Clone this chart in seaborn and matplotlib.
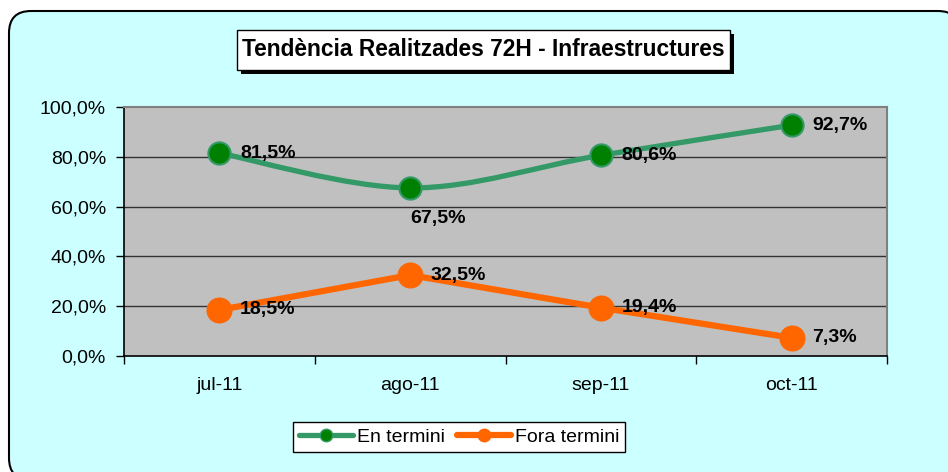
import numpy as np
import pandas as pd
import seaborn as sns
from matplotlib import pyplot as plt
from matplotlib.patches import FancyBboxPatch, Rectangle
from matplotlib.path import Path
from matplotlib.patches import PathPatch
from matplotlib.lines import Line2D
from matplotlib.ticker import FixedLocator, FuncFormatter
from matplotlib.transforms import IdentityTransform

# dades del grafic
months = ['jul-11', 'ago-11', 'sep-11', 'oct-11']
en_termini = [81.5, 67.5, 80.6, 92.7]
fora_termini = [18.5, 32.5, 19.4, 7.3]
series_names = ['En termini', 'Fora termini']
title = 'Tendència Realitzades 72H - Infraestructures'

green_line = '#339966'
green_dot = '#008000'
orange = '#FF6600'


def fmt_pct(v):
    return f"{v:.1f}%".replace('.', ',')


def smooth_path(xs, ys):
    # linia suavitzada tipus Excel (bezier catmull-rom)
    pts = np.column_stack([xs, ys]).astype(float)
    ext = np.vstack([pts[0], pts, pts[-1]])
    verts = [tuple(pts[0])]
    codes = [Path.MOVETO]
    for i in range(1, len(ext) - 2):
        p0, p1, p2, p3 = ext[i - 1], ext[i], ext[i + 1], ext[i + 2]
        c1 = p1 + (p2 - p0) / 6.0
        c2 = p2 - (p3 - p1) / 6.0
        verts += [tuple(c1), tuple(c2), tuple(p2)]
        codes += [Path.CURVE4] * 3
    return Path(verts, codes)


def main():
    sns.set_style('white')
    plt.rcParams['font.family'] = ['Liberation Sans', 'DejaVu Sans']
    plt.rcParams['text.color'] = 'black'
    plt.rcParams['xtick.color'] = 'black'
    plt.rcParams['ytick.color'] = 'black'
    plt.rcParams['xtick.labelcolor'] = 'black'
    plt.rcParams['ytick.labelcolor'] = 'black'

    df = pd.DataFrame({'mes': months * 2,
                       'valor': en_termini + fora_termini,
                       'serie': [series_names[0]] * 4 + [series_names[1]] * 4})

    fig = plt.figure(figsize=(9.48, 4.72), dpi=100)
    fig.patch.set_facecolor('white')

    # fons arrodonit
    bg = FancyBboxPatch((9, -8), 951, 469, boxstyle='round,pad=0,rounding_size=22',
                        transform=IdentityTransform(), facecolor='#CCFFFF',
                        edgecolor='black', linewidth=1.5, zorder=-5)
    fig.patches.append(bg)

    ax = fig.add_axes([124 / 948, 1 - 356 / 472, (887 - 124) / 948, (356 - 107) / 472])
    ax.set_zorder(1)
    ax.set_facecolor('#C0C0C0')

    d_en = df[df['serie'] == series_names[0]]
    d_fora = df[df['serie'] == series_names[1]]

    sns.lineplot(data=d_fora, x='mes', y='valor', sort=False, ax=ax, color=orange,
                 linewidth=4.5, marker='o', markersize=18, markeredgecolor=orange,
                 markerfacecolor=orange, zorder=4)
    # corba suavitzada per la serie verda
    xs = np.arange(len(months))
    ax.add_patch(PathPatch(smooth_path(xs, en_termini), facecolor='none',
                           edgecolor=green_line, linewidth=3.8, zorder=4,
                           capstyle='round'))
    sns.lineplot(data=d_en, x='mes', y='valor', sort=False, ax=ax, linestyle='none',
                 marker='o', markersize=16, markerfacecolor=green_dot,
                 markeredgecolor=green_line, markeredgewidth=1.5, zorder=5)

    ax.set_xlim(-0.5, len(months) - 0.5)
    ax.set_ylim(0, 100)
    ax.set_xlabel('')
    ax.set_ylabel('')

    ax.yaxis.set_major_locator(FixedLocator([0, 20, 40, 60, 80, 100]))
    ax.yaxis.set_major_formatter(FuncFormatter(lambda v, p: fmt_pct(v)))
    ax.set_xticks(xs)
    ax.set_xticklabels(months)
    ax.set_xticks(np.arange(len(months) + 1) - 0.5, minor=True)
    ax.tick_params(axis='x', which='major', length=0, pad=15, labelsize=14)
    ax.tick_params(axis='x', which='minor', length=6, width=1, color='black', direction='out',
                   bottom=True)
    ax.tick_params(axis='y', length=6, width=1, color='black', direction='out', pad=7,
                   labelsize=14, left=True)

    for y in [20, 40, 60, 80]:
        ax.axhline(y, color='#333333', linewidth=1, zorder=1)
    for s in ['left', 'bottom']:
        ax.spines[s].set_color('black')
        ax.spines[s].set_linewidth(1.2)
    for s in ['top', 'right']:
        ax.spines[s].set_color('#808080')
        ax.spines[s].set_linewidth(1.5)

    # etiquetes de dades
    for i, v in enumerate(en_termini):
        if i == 1:
            ax.annotate(fmt_pct(v), (i, v), xytext=(20, -22), textcoords='offset points',
                        ha='center', va='center', fontsize=14, fontweight='bold', zorder=6)
        else:
            ax.annotate(fmt_pct(v), (i, v), xytext=(15, 0), textcoords='offset points',
                        ha='left', va='center', fontsize=14, fontweight='bold', zorder=6)
    for i, v in enumerate(fora_termini):
        ax.annotate(fmt_pct(v), (i, v), xytext=(15, 0), textcoords='offset points',
                    ha='left', va='center', fontsize=14, fontweight='bold', zorder=6)

    # titol amb caixa i ombra
    fig.patches.append(Rectangle((241, 398), 493, 40, transform=IdentityTransform(),
                                 facecolor='black', edgecolor='none', zorder=1))
    fig.patches.append(Rectangle((237, 402), 493, 40, transform=IdentityTransform(),
                                 facecolor='white', edgecolor='black', linewidth=1, zorder=2))
    fig.text(483.5 / 948, 1 - 50 / 472, title, ha='center', va='center', fontsize=16.4,
             fontweight='bold', zorder=3)

    handles = [Line2D([], [], color=green_line, linewidth=3.8, marker='o', markersize=9,
                      markerfacecolor=green_dot, markeredgecolor=green_line),
               Line2D([], [], color=orange, linewidth=4.5, marker='o', markersize=9,
                      markerfacecolor=orange, markeredgecolor=orange)]
    if ax.get_legend():
        ax.get_legend().remove()
    fig.legend(handles, series_names, loc='center', bbox_to_anchor=(459 / 948, 1 - 437 / 472),
               ncol=2, frameon=True, fancybox=False, edgecolor='black', facecolor='white',
               framealpha=1, fontsize=14, handlelength=2.8, handletextpad=0.2,
               columnspacing=0.6, borderpad=0.3)

    fig.savefig('out.png', dpi=100, facecolor=fig.get_facecolor())


if __name__ == '__main__':
    main()
